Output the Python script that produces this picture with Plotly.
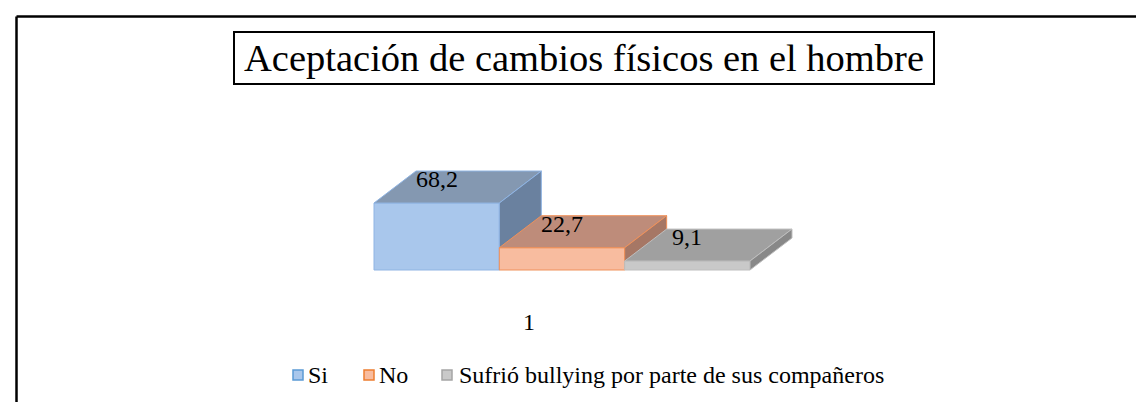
import plotly.graph_objects as go

# ---- data ----
categories = ["Si", "No", "Sufrió bullying por parte de sus compañeros"]
values = [68.2, 22.7, 9.1]
value_labels = ["68,2", "22,7", "9,1"]
category_label = "1"
title_text = "Aceptación de cambios físicos en el hombre"

# ---- style ----
FONT = "Liberation Serif"
front_colors = ["#A9C7EC", "#F8BC9F", "#C9C9C9"]
top_colors = ["#8498B1", "#BE8C7A", "#A0A0A0"]
side_colors = ["#6A819F", "#A67765", "#888888"]
edge_colors = ["#8FB4E3", "#F0915A", "#BEBEBE"]
legend_swatch = ["#A9C7EC", "#F8BC9F", "#C9C9C9"]
legend_edge = ["#5B9BD5", "#ED7D31", "#A5A5A5"]

W, H = 1144, 402
PX_X = 125.33   # px per bar slot
PX_Y = 0.982    # px per value unit
X0_PX, Y0_PX = 366, 262
DX = 42 / PX_X  # depth offset (x units)
DY = 32 / PX_Y  # depth offset (value units)

fig = go.Figure()

for i, (v, cat) in enumerate(zip(values, categories)):
    x0, x1 = i, i + 1
    # front face
    fig.add_trace(go.Scatter(
        x=[x0, x1, x1, x0, x0], y=[0, 0, v, v, 0],
        fill="toself", fillcolor=front_colors[i], mode="lines",
        line=dict(color=edge_colors[i], width=1), name=cat,
        showlegend=False, hoverinfo="skip"))
    # top face
    fig.add_trace(go.Scatter(
        x=[x0, x1, x1 + DX, x0 + DX, x0], y=[v, v, v + DY, v + DY, v],
        fill="toself", fillcolor=top_colors[i], mode="lines",
        line=dict(color=edge_colors[i], width=1),
        showlegend=False, hoverinfo="skip"))
    # side face
    fig.add_trace(go.Scatter(
        x=[x1, x1 + DX, x1 + DX, x1, x1], y=[0, DY, v + DY, v, 0],
        fill="toself", fillcolor=side_colors[i], mode="lines",
        line=dict(color=edge_colors[i], width=1),
        showlegend=False, hoverinfo="skip"))

annotations = []
for i, (v, lab) in enumerate(zip(values, value_labels)):
    annotations.append(dict(
        x=i + 0.5, y=v, xref="x", yref="y", text=lab, showarrow=False,
        yshift=24, font=dict(family=FONT, size=24, color="black")))

annotations.append(dict(
    x=1.24, y=0, xref="x", yref="y", text=category_label, showarrow=False,
    yshift=-52, font=dict(family=FONT, size=24, color="black")))

# title box
annotations.append(dict(
    x=576 / W, y=1 - 50 / H, xref="paper", yref="paper", text=title_text,
    showarrow=False, xanchor="center", yanchor="middle",
    width=698, height=50, borderpad=0,
    bordercolor="black", borderwidth=2,
    font=dict(family=FONT, size=38.5, color="black")))

# legend (manual)
legend_sq_x = [285, 356, 434]
legend_txt_x = [298, 369, 449]
legend_y = 367
shapes = []
for i, cat in enumerate(categories):
    shapes.append(dict(
        type="rect", xref="paper", yref="paper",
        x0=legend_sq_x[i] / W, x1=(legend_sq_x[i] + 10) / W,
        y0=1 - (legend_y + 5) / H, y1=1 - (legend_y - 5) / H,
        fillcolor=legend_swatch[i], line=dict(color=legend_edge[i], width=1.5)))
    annotations.append(dict(
        x=legend_txt_x[i] / W, y=1 - legend_y / H, xref="paper", yref="paper",
        text=cat, showarrow=False, xanchor="left", yanchor="middle",
        font=dict(family=FONT, size=24, color="black")))

# outer frame (top and left)
shapes.append(dict(type="line", xref="paper", yref="paper",
                   x0=8.5 / W, x1=1, y0=1 - 8.5 / H, y1=1 - 8.5 / H,
                   line=dict(color="black", width=2.5)))
shapes.append(dict(type="line", xref="paper", yref="paper",
                   x0=8.5 / W, x1=8.5 / W, y0=0, y1=1 - 8.5 / H,
                   line=dict(color="black", width=2.5)))

fig.update_layout(
    width=W, height=H,
    margin=dict(l=0, r=0, t=0, b=0),
    paper_bgcolor="white", plot_bgcolor="white",
    xaxis=dict(range=[-X0_PX / PX_X, (W - X0_PX) / PX_X], visible=False,
               fixedrange=True),
    yaxis=dict(range=[-(H - Y0_PX) / PX_Y, Y0_PX / PX_Y], visible=False,
               fixedrange=True),
    annotations=annotations, shapes=shapes, showlegend=False,
)

fig.write_html("out.html")
